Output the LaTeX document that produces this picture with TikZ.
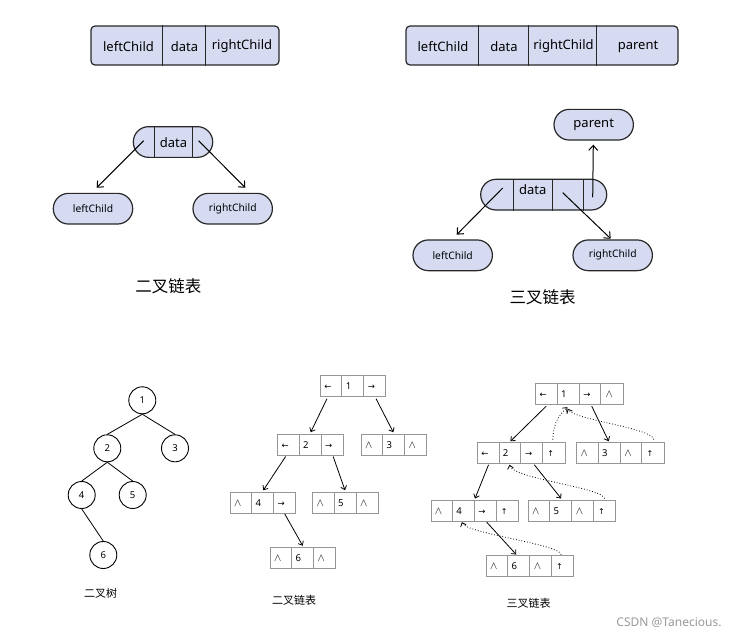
\documentclass[tikz,border=0pt]{standalone}
\usepackage{fontspec}
\setmainfont{Noto Sans}
\newfontfamily\cjk{Noto Sans CJK SC}
\newfontfamily\symf{DejaVu Sans}
\usetikzlibrary{arrows.meta,calc}
\definecolor{lav}{RGB}{214,219,242}
\definecolor{edgec}{RGB}{40,40,40}
\definecolor{cellc}{RGB}{150,150,150}
\newcommand\symL{{\symf\fontsize{8.5}{9}\selectfont ←}}
\newcommand\symR{{\symf\fontsize{8.5}{9}\selectfont →}}
\newcommand\symU{{\symf\fontsize{8}{9}\selectfont ↑}}
\newcommand\symN{{\fontsize{10.5}{12}\selectfont$\wedge$}}
\newcommand\mkthree[6]{%
  \node[cellbox, minimum width=65.4pt] (#1) at (#2,#3) {};
  \draw[cellline] ($(#1.north west)+(21.8,0)$) -- ($(#1.south west)+(21.8,0)$)
                  ($(#1.north west)+(43.6,0)$) -- ($(#1.south west)+(43.6,0)$);
  \node[celltxt] at ($(#1.west)+(4,0)$) {#4};
  \node[celltxt] at ($(#1.west)+(25.5,0)$) {#5};
  \node[celltxt] at ($(#1.west)+(47.6,0)$) {#6};
}
\newcommand\mkfour[7]{%
  \node[cellbox, minimum width=87.4pt] (#1) at (#2,#3) {};
  \draw[cellline] ($(#1.north west)+(21.85,0)$) -- ($(#1.south west)+(21.85,0)$)
                  ($(#1.north west)+(43.7,0)$) -- ($(#1.south west)+(43.7,0)$)
                  ($(#1.north west)+(65.55,0)$) -- ($(#1.south west)+(65.55,0)$);
  \node[celltxt] at ($(#1.west)+(4,0)$) {#4};
  \node[celltxt] at ($(#1.west)+(25.5,0)$) {#5};
  \node[celltxt] at ($(#1.west)+(47.7,0)$) {#6};
  \node[celltxt] at ($(#1.west)+(70,0)$) {#7};
}
\begin{document}
\begin{tikzpicture}[x=1pt,y=-1pt,
  recbox/.style={draw=edgec, fill=lav, line width=1.2pt, rounded corners=4pt, inner sep=0, minimum height=39pt},
  pill/.style={draw=edgec, fill=lav, line width=1.2pt, rounded corners=15.3pt, inner sep=0, minimum height=30.7pt, minimum width=79.4pt},
  divl/.style={draw=edgec, line width=1.2pt},
  bigt/.style={inner sep=0, font=\fontsize{13}{15}\selectfont},
  smallt/.style={inner sep=0, font=\fontsize{10.3}{12}\selectfont},
  arr/.style={draw=black, line width=1pt, -{Straight Barb[length=5pt,width=9pt]}},
  cellbox/.style={draw=cellc, line width=0.9pt, fill=white, inner sep=0, minimum height=21pt},
  cellline/.style={draw=cellc, line width=0.9pt},
  celltxt/.style={anchor=west, inner sep=0, text height=7pt, text depth=0pt, font=\fontsize{9.5}{11}\selectfont},
  circ/.style={circle, draw=black, line width=0.9pt, minimum size=27pt, inner sep=0, font=\fontsize{9.5}{11}\selectfont},
  tline/.style={draw=black, line width=0.8pt},
  sarr/.style={draw=black, line width=0.8pt, -{Straight Barb[length=3.5pt,width=6pt]}},
  parr/.style={draw=black, line width=0.8pt, dotted, -{Straight Barb[length=3.5pt,width=6pt]}},
  biglab/.style={inner sep=0, font=\cjk\fontsize{16.5}{18}\selectfont},
  smlab/.style={inner sep=0, font=\cjk\fontsize{11}{13}\selectfont}
]
\useasboundingbox (0,0) rectangle (737,637);
\fill[white] (0,0) rectangle (737,637);

% ---------- top-left record ----------
\node[recbox, minimum width=188pt] (rec1) at (185,45.5) {};
\draw[divl] ($(rec1.north west)+(72,0)$) -- ($(rec1.south west)+(72,0)$)
            ($(rec1.north west)+(115,0)$) -- ($(rec1.south west)+(115,0)$);
\node[bigt] (r1a) at (128.5,46.5) {leftChild};
\node[bigt] (r1b) at (184.5,46.5) {data};
\node[bigt] (r1c) at (242,46.5) {rightChild};

% ---------- top-right record ----------
\node[recbox, minimum width=272pt] (rec2) at (542,45.5) {};
\draw[divl] ($(rec2.north west)+(73,0)$) -- ($(rec2.south west)+(73,0)$)
            ($(rec2.north west)+(123,0)$) -- ($(rec2.south west)+(123,0)$)
            ($(rec2.north west)+(191,0)$) -- ($(rec2.south west)+(191,0)$);
\node[bigt] (r2a) at (443,46.5) {leftChild};
\node[bigt] (r2b) at (504,46.5) {data};
\node[bigt] (r2c) at (563.5,46.5) {rightChild};
\node[bigt] (r2d) at (638,46.5) {parent};

% ---------- binary node ----------
\node[pill] (bn) at (173,142) {};
\draw[divl] ($(bn.north west)+(21.7,0)$) -- ($(bn.south west)+(21.7,0)$)
            ($(bn.north west)+(59.7,0)$) -- ($(bn.south west)+(59.7,0)$);
\node[bigt] (bnd) at (173.5,143) {data};
\node[pill, smallt] (lc1) at (93,208.7) {leftChild};
\node[pill, smallt] (rc1) at (232.7,208.7) {rightChild};
\coordinate (bnL) at ($(bn.west)+(11,-1.3)$);
\coordinate (bnR) at ($(bn.east)+(-14.7,-1.3)$);
\coordinate (lc1t) at ($(lc1.north)+(3.7,-5)$);
\coordinate (rc1t) at ($(rc1.north)+(12.6,-5)$);
\draw[arr] (bnL) -- (lc1t);
\draw[arr] (bnR) -- (rc1t);
\node[biglab] (lab1) at (168.3,286) {二叉链表};

% ---------- trident node ----------
\node[pill, minimum width=126pt] (tn) at (543.7,194.65) {};
\draw[divl] ($(tn.north west)+(33.3,0)$) -- ($(tn.south west)+(33.3,0)$)
            ($(tn.north west)+(72,0)$) -- ($(tn.south west)+(72,0)$)
            ($(tn.north west)+(103.3,0)$) -- ($(tn.south west)+(103.3,0)$);
\node[bigt] (tnd) at (532.7,190) {data};
\node[pill, bigt, inner sep=0] (pn) at (593.7,124.7) {parent};
\node[pill, smallt] (lc2) at (452.7,255.3) {leftChild};
\node[pill, smallt] (rc2) at (612.7,255.3) {rightChild};
\coordinate (tnP) at ($(tn.west)+(112.6,2.6)$);
\coordinate (tnL) at ($(tn.west)+(22.6,-6.6)$);
\coordinate (tnR) at ($(tn.west)+(82.6,-2)$);
\coordinate (pnb) at ($(pn.south)+(-0.4,4)$);
\coordinate (lc2t) at ($(lc2.north)+(4,-4.7)$);
\coordinate (rc2t) at ($(rc2.north)+(-2,-0.7)$);
\draw[arr] (tnP) -- (pnb);
\draw[arr] (tnL) -- (lc2t);
\draw[arr] (tnR) -- (rc2t);
\node[biglab] (lab2) at (542.7,297) {三叉链表};

% ---------- binary tree ----------
\node[circ] (n1) at (142.3,400.3) {1};
\node[circ] (n2) at (107.3,448.3) {2};
\node[circ] (n3) at (175,448.3) {3};
\node[circ] (n4) at (81.7,495) {4};
\node[circ] (n5) at (132.7,495) {5};
\node[circ] (n6) at (103.3,555) {6};
\draw[tline] (n1.south) -- (n2.north);
\draw[tline] (n1.south) -- (n3.north);
\draw[tline] (n2.south) -- (n4.north);
\draw[tline] (n2.south) -- (n5.north);
\draw[tline] (n4.south) -- (n6.north);
\node[smlab] (lab3) at (100.5,593) {二叉树};

% ---------- binary linked list ----------
\mkthree{B1}{353.2}{385.5}{\symL}{1}{\symR}
\mkthree{B2}{310.5}{444.5}{\symL}{2}{\symR}
\mkthree{B3}{394}{444.5}{\symN}{3}{\symN}
\mkthree{B4}{263}{502.5}{\symN}{4}{\symR}
\mkthree{B5}{345.5}{502.5}{\symN}{5}{\symN}
\mkthree{B6}{303}{558}{\symN}{6}{\symN}
\draw[sarr] ($(B1.south west)+(6.9,2.3)$) -- ($(B2.north)+(0.2,-1.3)$);
\draw[sarr] ($(B1.south east)+(-10.3,2.3)$) -- ($(B3.north)+(-0.7,-1.3)$);
\draw[sarr] ($(B2.south west)+(8.3,1)$) -- ($(B4.north)+(0.3,-1.3)$);
\draw[sarr] ($(B2.south east)+(-10.5,1)$) -- ($(B5.north)+(-0.5,-1.3)$);
\draw[sarr] ($(B4.south east)+(-11.5,0.3)$) -- ($(B6.north)+(-0.3,-1.3)$);
\node[smlab] (lab4) at (294,600.5) {二叉链表};

% ---------- trident linked list ----------
\mkfour{T1}{579.5}{393.8}{\symL}{1}{\symR}{\symN}
\mkfour{T2}{521.3}{452.8}{\symL}{2}{\symR}{\symU}
\mkfour{T3}{620.5}{452.8}{\symN}{3}{\symN}{\symU}
\mkfour{T4}{474.7}{510.5}{\symN}{4}{\symR}{\symU}
\mkfour{T5}{572}{510.5}{\symN}{5}{\symN}{\symU}
\mkfour{T6}{530}{566.3}{\symN}{6}{\symN}{\symU}
\draw[sarr] ($(T1.south west)+(10.9,1.4)$) -- ($(T2.north west)+(33.3,-0.6)$);
\draw[sarr] ($(T1.south)+(12.2,1.4)$) -- ($(T3.north west)+(32.3,-0.6)$);
\draw[sarr] ($(T2.south west)+(11.4,1)$) -- ($(T4.north)+(0.3,-1)$);
\draw[sarr] ($(T2.south)+(13,1)$) -- ($(T5.north west)+(33.3,-1)$);
\draw[sarr] ($(T4.south)+(12,0.7)$) -- ($(T6.north west)+(30.4,-0.8)$);
% parent pointers
\draw[parr] ($(T2.north west)+(75.7,-2.3)$) .. controls ($(T2.north west)+(76.5,-22)$) and ($(T1.south west)+(25,10)$) .. ($(T1.south west)+(32,2.4)$);
\draw[parr] ($(T3.north west)+(77.5,-2.3)$) .. controls ($(T3.north west)+(76,-14)$) and ($(T1.south west)+(38,15)$) .. ($(T1.south west)+(32.5,4)$);
\draw[parr] ($(T5.north west)+(76.7,-1)$) .. controls ($(T5.north west)+(75,-12)$) and ($(T2.south west)+(36,15)$) .. ($(T2.south west)+(32.4,1)$);
\draw[parr] ($(T6.north west)+(75.4,-0.8)$) .. controls ($(T6.north west)+(74,-11)$) and ($(T4.south west)+(36,12)$) .. ($(T4.south west)+(31.3,0.7)$);
\node[smlab] (lab5) at (528.5,603) {三叉链表};

% ---------- watermark ----------
\node[inner sep=0, text=black!40, font=\fontsize{12}{14}\selectfont] (wm) at (669,623) {CSDN @Tanecious.};
\end{tikzpicture}
\end{document}
